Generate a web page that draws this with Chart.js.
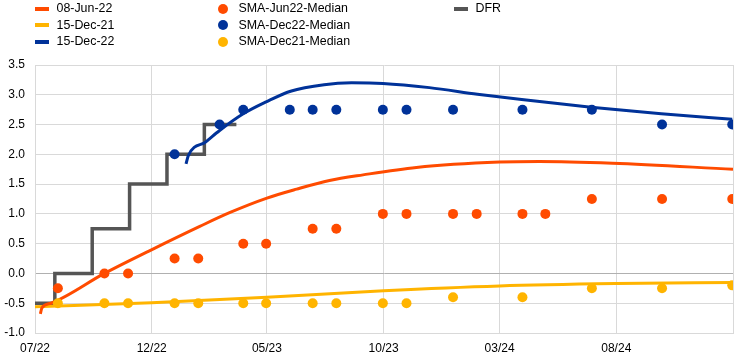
<!DOCTYPE html>
<html>
<head>
<meta charset="utf-8">
<script src="https://cdn.jsdelivr.net/npm/chart.js@4/dist/chart.umd.min.js"></script>
<style>
  html, body { margin: 0; padding: 0; background: #fff; }
  #wrap { position: relative; width: 744px; height: 361px; font-family: "Liberation Sans", Arial, sans-serif; }
  canvas { position: absolute; left: 0; top: 0; }
  .lg { position: absolute; font-size: 12.4px; color: #000; line-height: 14px; white-space: nowrap; }
  .mk { position: absolute; }
</style>
</head>
<body>
<div id="wrap">
  <canvas id="c" width="744" height="361"></canvas>
</div>
<script>
// ---- Data ----
const xTickDates  = ['2022-07-01', '2022-12-01', '2023-05-01', '2023-10-01', '2024-03-01', '2024-08-01'];
const xTickLabels = ['07/22', '12/22', '05/23', '10/23', '03/24', '08/24'];
const xEndDate    = '2025-01-01';

// Forward curves
const jun22CurveDates  = ['2022-07-08','2022-07-10','2022-07-22','2022-09-30','2022-11-28','2023-02-02','2023-03-13','2023-05-01','2023-06-09','2023-07-22','2023-09-04','2023-11-13','2024-03-01','2024-04-22','2024-07-27','2025-01-01'];
const jun22CurveValues = [-0.68, -0.58, -0.50, 0.00, 0.38, 0.79, 1.02, 1.265, 1.415, 1.56, 1.655, 1.78, 1.87, 1.88, 1.85, 1.75];

const dec21CurveDates  = ['2022-07-01','2022-12-01','2023-05-01','2023-10-01','2024-03-01','2024-08-01','2025-01-01'];
const dec21CurveValues = [-0.56, -0.49, -0.40, -0.29, -0.21, -0.17, -0.15];

const dec22CurveDates  = ['2023-01-15','2023-01-18','2023-02-10','2023-02-28','2023-03-31','2023-04-30','2023-06-01','2023-07-15','2023-08-20','2023-09-30','2023-11-30','2024-02-01','2024-03-30','2024-06-29','2024-09-29','2024-12-31'];
const dec22CurveValues = [1.84, 1.98, 2.21, 2.40, 2.68, 2.88, 3.06, 3.17, 3.20, 3.19, 3.12, 3.01, 2.92, 2.79, 2.68, 2.59];

// Deposit facility rate
const dfrDates  = ['2022-07-01','2022-07-27','2022-09-14','2022-11-02','2022-12-21','2023-02-08','2023-03-22'];
const dfrValues = [-0.50, 0.00, 0.75, 1.50, 2.00, 2.50, 2.50];

// Survey of Monetary Analysts medians
const smaJun22Dates  = ['2022-07-31','2022-09-30','2022-10-31','2022-12-31','2023-01-31','2023-03-31','2023-04-30','2023-06-30','2023-07-31','2023-09-30','2023-10-31','2023-12-31','2024-01-31','2024-03-31','2024-04-30','2024-06-30','2024-09-30','2024-12-31'];
const smaJun22Values = [-0.25, 0.00, 0.00, 0.25, 0.25, 0.50, 0.50, 0.75, 0.75, 1.00, 1.00, 1.00, 1.00, 1.00, 1.00, 1.25, 1.25, 1.25];

const smaDec22Dates  = ['2022-12-31','2023-02-28','2023-03-31','2023-05-31','2023-06-30','2023-07-31','2023-09-30','2023-10-31','2023-12-31','2024-03-31','2024-06-30','2024-09-30','2024-12-31'];
const smaDec22Values = [2.00, 2.50, 2.75, 2.75, 2.75, 2.75, 2.75, 2.75, 2.75, 2.75, 2.75, 2.50, 2.50];

const smaDec21Dates  = ['2022-07-31','2022-09-30','2022-10-31','2022-12-31','2023-01-31','2023-03-31','2023-04-30','2023-06-30','2023-07-31','2023-09-30','2023-10-31','2023-12-31','2024-03-31','2024-06-30','2024-09-30','2024-12-31'];
const smaDec21Values = [-0.50, -0.50, -0.50, -0.50, -0.50, -0.50, -0.50, -0.50, -0.50, -0.50, -0.50, -0.40, -0.40, -0.25, -0.25, -0.20];

// ---- Helpers ----
const ORIGIN = Date.UTC(2022, 6, 1);
function dayOf(s) {
  const p = s.split('-').map(Number);
  return (Date.UTC(p[0], p[1] - 1, p[2]) - ORIGIN) / 86400000;
}
function pts(dates, vals) { return dates.map((d, i) => ({ x: dayOf(d), y: vals[i] })); }

const C_ORANGE = '#FF4B00', C_YELLOW = '#FFB400', C_BLUE = '#003299', C_GREY = '#555555';

const tickDays = xTickDates.map(dayOf);
const endDay = dayOf(xEndDate);

// ---- Legend (HTML text) ----
const legendItems = [
  { label: '08-Jun-22', kind: 'line', color: C_ORANGE, col: 0, row: 0 },
  { label: '15-Dec-21', kind: 'line', color: C_YELLOW, col: 0, row: 1 },
  { label: '15-Dec-22', kind: 'line', color: C_BLUE,   col: 0, row: 2 },
  { label: 'SMA-Jun22-Median', kind: 'dot', color: C_ORANGE, col: 1, row: 0 },
  { label: 'SMA-Dec22-Median', kind: 'dot', color: C_BLUE,   col: 1, row: 1 },
  { label: 'SMA-Dec21-Median', kind: 'dot', color: C_YELLOW, col: 1, row: 2 },
  { label: 'DFR', kind: 'line', color: C_GREY, col: 2, row: 0 }
];
const colMarkX = [35, 217.5, 453.5];
const colTextX = [56.5, 238.5, 475.5];
const rowY = [8.5, 25, 41.5];
const wrap = document.getElementById('wrap');
legendItems.forEach(it => {
  const m = document.createElement('div');
  m.className = 'mk';
  if (it.kind === 'line') {
    m.style.left = colMarkX[it.col] + 'px';
    m.style.top = (rowY[it.row] - 2) + 'px';
    m.style.width = '14px';
    m.style.height = '4px';
    m.style.background = it.color;
  } else {
    m.style.left = colMarkX[it.col] + 'px';
    m.style.top = (rowY[it.row] - 5) + 'px';
    m.style.width = '10px';
    m.style.height = '10px';
    m.style.borderRadius = '50%';
    m.style.background = it.color;
  }
  wrap.appendChild(m);
  const t = document.createElement('div');
  t.className = 'lg';
  t.textContent = it.label;
  t.style.left = colTextX[it.col] + 'px';
  t.style.top = (rowY[it.row] - 7.5) + 'px';
  wrap.appendChild(t);
});

// ---- Chart ----
const FONT = { family: '"Liberation Sans", Arial, sans-serif', size: 12 };
const dotDs = (label, dates, vals, color) => ({
  label, data: pts(dates, vals), showLine: false, pointRadius: 5, pointHoverRadius: 5,
  pointBackgroundColor: color, pointBorderColor: color, pointBorderWidth: 0,
  borderColor: color, backgroundColor: color, order: 1
});
const lineDs = (label, dates, vals, color, extra) => Object.assign({
  label, data: pts(dates, vals), borderColor: color, backgroundColor: color,
  borderWidth: 3, pointRadius: 0, cubicInterpolationMode: 'monotone', fill: false, order: 2,
  borderCapStyle: 'butt'
}, extra || {});

new Chart(document.getElementById('c'), {
  type: 'line',
  data: {
    datasets: [
      dotDs('SMA-Jun22-Median', smaJun22Dates, smaJun22Values, C_ORANGE),
      dotDs('SMA-Dec22-Median', smaDec22Dates, smaDec22Values, C_BLUE),
      dotDs('SMA-Dec21-Median', smaDec21Dates, smaDec21Values, C_YELLOW),
      lineDs('08-Jun-22', jun22CurveDates, jun22CurveValues, C_ORANGE),
      lineDs('15-Dec-21', dec21CurveDates, dec21CurveValues, C_YELLOW),
      lineDs('15-Dec-22', dec22CurveDates, dec22CurveValues, C_BLUE),
      lineDs('DFR', dfrDates, dfrValues, C_GREY, { stepped: 'before', cubicInterpolationMode: 'default', borderWidth: 3.5, order: 3 })
    ]
  },
  options: {
    responsive: false,
    devicePixelRatio: 1,
    animation: false,
    layout: { padding: { top: 65, right: 11, left: 0, bottom: 0 } },
    plugins: { legend: { display: false }, tooltip: { enabled: false } },
    scales: {
      x: {
        type: 'linear',
        min: 0, max: endDay,
        afterBuildTicks: s => { s.ticks = tickDays.concat([endDay]).map(v => ({ value: v })); },
        afterFit: s => { s.height = 28; },
        ticks: {
          autoSkip: false, maxRotation: 0, padding: 8, color: '#000', font: FONT,
          callback: (v) => { const i = tickDays.indexOf(v); return i >= 0 ? xTickLabels[i] : ''; }
        },
        grid: { color: '#d9d9d9', lineWidth: 1, drawTicks: false },
        border: { display: true, color: '#d9d9d9' }
      },
      y: {
        min: -1, max: 3.5,
        afterFit: s => { s.width = 35; },
        ticks: { stepSize: 0.5, padding: 10, color: '#000', font: FONT, callback: v => v.toFixed(1) },
        grid: { drawTicks: false, lineWidth: 1, color: c => (c.tick && c.tick.value === 0) ? '#b0b0b0' : '#d9d9d9' },
        border: { display: true, color: '#d9d9d9' }
      }
    }
  }
});
</script>
</body>
</html>
